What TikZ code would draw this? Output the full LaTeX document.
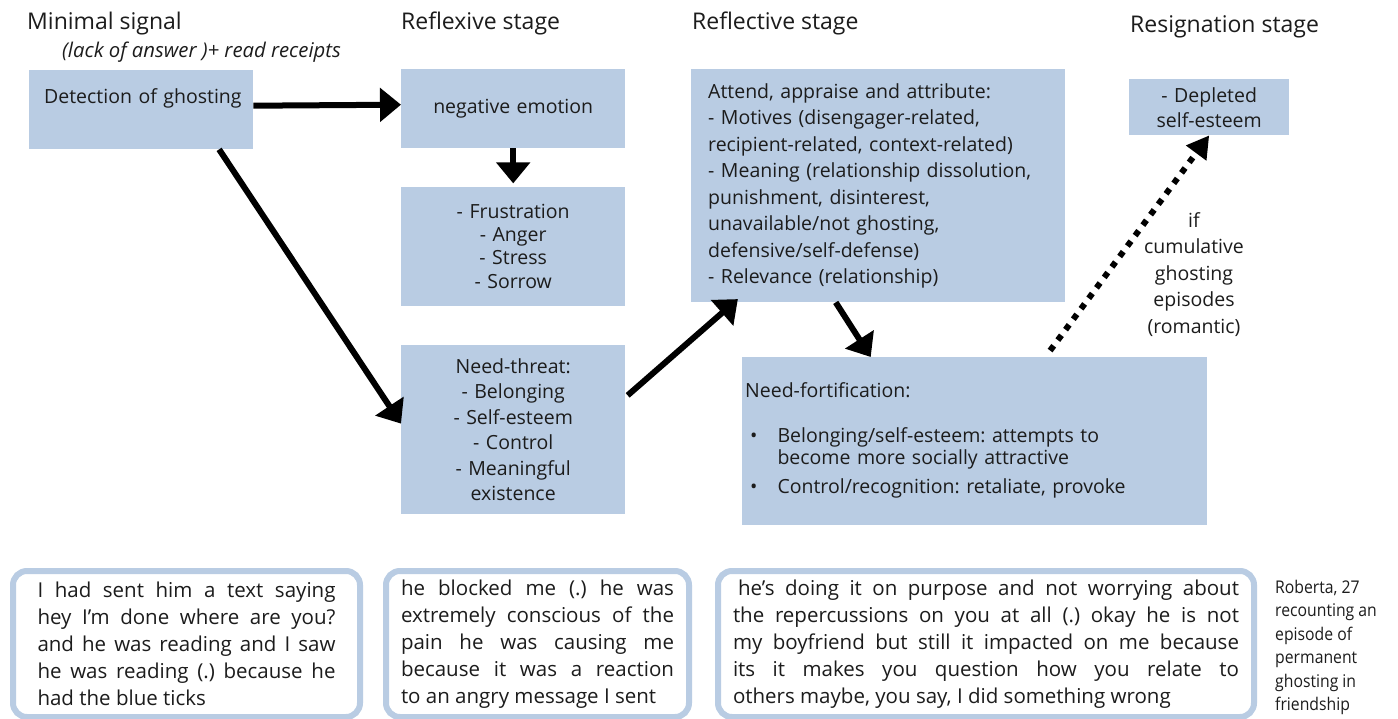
\documentclass[tikz,border=0pt]{standalone}
\usepackage{fontspec}
\setmainfont{Open Sans}
\newfontfamily\condfont[FakeStretch=0.9]{Open Sans}
\usetikzlibrary{positioning,arrows.meta}
\setlength{\parindent}{0pt}
\frenchspacing

\definecolor{boxblue}{RGB}{185,204,227}
\definecolor{ink}{RGB}{28,28,28}

\begin{document}
\begin{tikzpicture}[
        x=1pt, y=-1pt,
        stagebox/.style={
            rectangle,
            fill=boxblue,
            inner sep=0pt,
            align=center,
            text=ink,
            font=\fontsize{19.5}{25}\selectfont
        },
        stagetitle/.style={
            anchor=base west,
            inner sep=0pt,
            text=ink,
            font=\fontsize{23}{28}\selectfont
        },
        quotebox/.style={
            rectangle,
            draw=boxblue,
            line width=6pt,
            rounded corners=14pt,
            fill=white,
            anchor=north west,
            inner sep=0pt,
            align=justify,
            text=ink,
            font=\fontsize{20.5}{27}\selectfont
        },
        arrow/.style={
            -{Triangle[length=21pt,width=33pt]},
            line width=6pt
        },
        dotarrow/.style={
            -{Triangle[length=22pt,width=24pt]},
            line width=6pt,
            dash pattern=on 6pt off 7pt
        }
    ]

    \path[fill=white, use as bounding box] (0,0) rectangle (1398,719);

    % Stage titles
    \node[stagetitle] (tminimal) at (27,30) {Minimal signal};
    \node[stagetitle] (treflexive) at (401,30) {Reflexive stage};
    \node[stagetitle] (treflective) at (692,30) {Reflective stage};
    \node[stagetitle] (tresign) at (1130,33) {Resignation stage};
    \node[anchor=base west, inner sep=0pt, text=ink, font=\itshape\fontsize{20.3}{24}\selectfont] (signal) at (62,58) {(lack of answer )+ read receipts};

    % Minimal signal
    \node[stagebox, anchor=north west, align=left, text width=194pt, inner xsep=15pt,
          text height=33pt, text depth=46pt] (detect) at (29,70) {\mbox{Detection of ghosting}};

    % Reflexive stage
    \node[stagebox, anchor=north west, text width=200pt, minimum width=224pt, minimum height=79pt] (neg) at (401,69) {negative emotion};
    \node[stagebox, below=38pt of neg, text width=200pt, minimum width=224pt, minimum height=119pt,
          font=\fontsize{19.5}{23.3}\selectfont] (emo) {- Frustration\\- Anger\\- Stress\\- Sorrow};
    \node[stagebox, below=39pt of emo, text width=200pt, minimum width=224pt, minimum height=169pt,
          font=\fontsize{19.5}{25.5}\selectfont] (threat) {Need-threat:\\- Belonging\\- Self-esteem\\- Control\\- Meaningful\\existence};

    % Reflective stage
    \node[stagebox, anchor=north west, align=left, text width=340pt, inner xsep=17pt, minimum height=233pt,
          font=\fontsize{19.5}{26.5}\selectfont] (refl) at (691,69) {Attend, appraise and attribute:\\
        - Motives (disengager-related,\\
        recipient-related, context-related)\\
        - Meaning (relationship dissolution,\\
        punishment, disinterest,\\
        unavailable/not ghosting,\\
        defensive/self-defense)\\
        - Relevance (relationship)};
    \node[stagebox, anchor=north west, align=left, text width=459pt, inner xsep=3pt, minimum height=168pt] (fort) at (742,357) {Need-fortification:\\[29pt]
        {\fontsize{19.5}{21}\selectfont
        \begin{tabular}{@{\hspace{5pt}}l@{\hspace{20pt}}l@{}}
            \textbullet & Belonging/self-esteem: attempts to\\
                        & become more socially attractive\\[8pt]
            \textbullet & Control/recognition: retaliate, provoke
        \end{tabular}}};

    % Resignation stage
    \node[stagebox, anchor=north west, text width=150pt, minimum width=160pt, minimum height=56pt] (depl) at (1129,79) {- Depleted\\self-esteem};
    \node[anchor=north, inner sep=0pt, align=center, text=ink, font=\fontsize{19.5}{26.5}\selectfont] (cond) at (1194,212) {if\\cumulative\\ghosting\\episodes\\(romantic)};

    % Connections
    \draw[arrow] ([yshift=4pt]detect.east) -- ([yshift=4pt]neg.west);
    \draw[arrow, shorten >=3pt] (neg.south) -- (emo.north);
    \draw[arrow] (detect.-27) -- (threat.177);
    \draw[arrow, shorten <=3pt, shorten >=-5pt] (threat.16) -- (refl.219);
    \draw[arrow] (refl.250) -- (fort.141);
    \draw[dotarrow, shorten <=8pt] (fort.50) -- (depl.south);

    % Interview excerpts
    \node[quotebox, minimum width=347pt, minimum height=146pt, text width=298pt] (quote1) at (10,568) {I had sent him a text saying\linebreak hey I'm done where are you?\linebreak and he was reading and I saw\linebreak he was reading (.) because he\linebreak had the blue ticks};
    \node[quotebox, minimum width=303pt, minimum height=146pt, text width=273pt] (quote2) at (383,568) {he blocked me (.) he was\linebreak extremely conscious of the\linebreak pain he was causing me\linebreak because it was a reaction\linebreak to an angry message I sent};
    \node[quotebox, minimum width=536pt, minimum height=146pt, text width=506pt] (quote3) at (715,568) {\hspace*{5pt}he's doing it on purpose and not worrying about\linebreak the repercussions on you at all (.) okay he is not\linebreak my boyfriend but still it impacted on me because\linebreak its it makes you question how you relate to\linebreak others maybe, you say, I did something wrong};
    \node[anchor=north west, inner sep=0pt, align=left, text=ink, font=\condfont\fontsize{17.5}{23.4}\selectfont] (speaker) at (1275,580) {Roberta, 27\\recounting an\\episode of\\permanent\\ghosting in\\friendship};

\end{tikzpicture}
\end{document}
